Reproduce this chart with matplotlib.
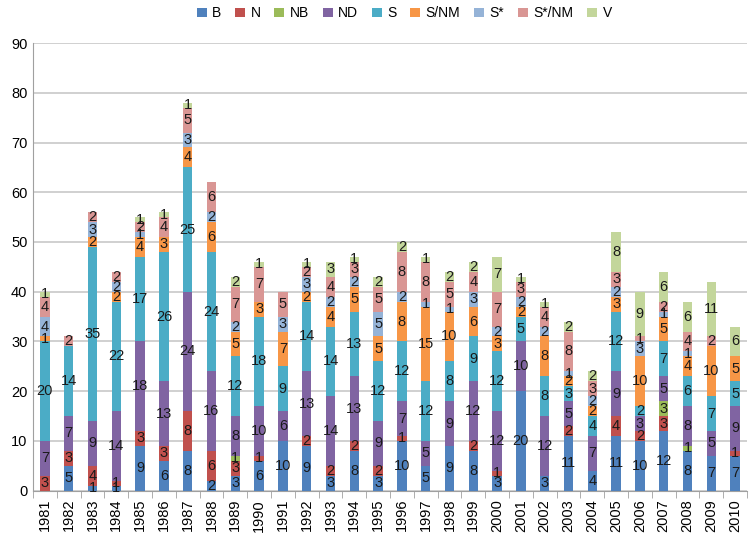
import numpy as np
import matplotlib.pyplot as plt

plt.rcParams['font.family'] = ['Liberation Sans', 'DejaVu Sans']

years = list(range(1981, 2011))
series = ['B', 'N', 'NB', 'ND', 'S', 'S/NM', 'S*', 'S*/NM', 'V']
colors = ['#4F81BD', '#C0504D', '#9BBB59', '#8064A2', '#4BACC6',
          '#F79646', '#95B3D7', '#D99694', '#C3D69B']

# values per year, in series order above
B = [0, 5, 1, 1, 9, 6, 8, 2, 3, 6, 10, 9, 3, 8, 3, 10, 5, 9, 8, 3,
     20, 3, 11, 4, 11, 10, 12, 8, 7, 7]
N = [3, 3, 4, 1, 3, 3, 8, 6, 3, 1, 0, 2, 2, 2, 2, 1, 0, 0, 2, 1,
     0, 0, 2, 0, 4, 2, 3, 0, 0, 1]
NB = [0, 0, 0, 0, 0, 0, 0, 0, 1, 0, 0, 0, 0, 0, 0, 0, 0, 0, 0, 0,
      0, 0, 0, 0, 0, 0, 3, 1, 0, 0]
ND = [7, 7, 9, 14, 18, 13, 24, 16, 8, 10, 6, 13, 14, 13, 9, 7, 5, 9, 12, 12,
      10, 12, 5, 7, 9, 3, 5, 8, 5, 9]
S = [20, 14, 35, 22, 17, 26, 25, 24, 12, 18, 9, 14, 14, 13, 12, 12, 12, 8, 9, 12,
     5, 8, 3, 4, 12, 2, 7, 6, 7, 5]
S_NM = [1, 0, 2, 2, 4, 3, 4, 6, 5, 3, 7, 2, 4, 5, 5, 8, 15, 10, 6, 3,
        2, 8, 2, 2, 3, 10, 5, 4, 10, 5]
S_star = [4, 0, 3, 2, 1, 0, 3, 2, 2, 0, 3, 3, 2, 2, 5, 2, 1, 1, 3, 2,
          2, 2, 1, 2, 2, 3, 1, 1, 0, 0]
S_star_NM = [4, 2, 2, 2, 2, 4, 5, 6, 7, 7, 5, 2, 4, 3, 5, 8, 8, 5, 4, 7,
             3, 4, 8, 3, 3, 1, 2, 4, 2, 0]
V = [1, 0, 0, 0, 1, 1, 1, 0, 2, 1, 0, 1, 3, 1, 2, 2, 1, 2, 2, 7,
     1, 1, 2, 2, 8, 9, 6, 6, 11, 6]

data = [B, N, NB, ND, S, S_NM, S_star, S_star_NM, V]

fig = plt.figure(figsize=(7.5, 5.38), dpi=100)
ax = fig.add_axes([0.044, 0.088, 0.952, 0.832])

x = np.arange(len(years))
bottom = np.zeros(len(years))
for name, vals, c in zip(series, data, colors):
    vals = np.array(vals)
    bars = ax.bar(x, vals, 0.4, bottom=bottom, color=c, label=name, zorder=3)
    labels = [str(v) if v > 0 else '' for v in vals]
    ax.bar_label(bars, labels=labels, label_type='center', fontsize=10.5,
                 color='#1a1a1a', zorder=4)
    bottom += vals

ax.set_xlim(-0.5, len(years) - 0.5)
ax.set_ylim(0, 90)
ax.set_yticks(range(0, 91, 10))
ax.yaxis.grid(True, color='#c8c8c8', linewidth=1.2, zorder=0)
ax.set_xticks(x)
ax.set_xticklabels(years, rotation=90, fontsize=10.5)
ax.set_xticks(np.arange(-0.5, len(years)), minor=True)
ax.tick_params(axis='x', which='major', length=0, pad=6)
ax.tick_params(axis='x', which='minor', length=5, color='#a0a0a0')
ax.tick_params(axis='y', length=0, labelsize=10.5, pad=4)
for s in ['top', 'right']:
    ax.spines[s].set_visible(False)
for s in ['left', 'bottom']:
    ax.spines[s].set_color('#a0a0a0')

ax.legend(loc='upper center', bbox_to_anchor=(0.52, 1.11), ncol=9,
          frameon=False, fontsize=10, handlelength=0.7, handleheight=0.7,
          columnspacing=1.0, handletextpad=0.4)

fig.savefig('out.png', dpi=100)
